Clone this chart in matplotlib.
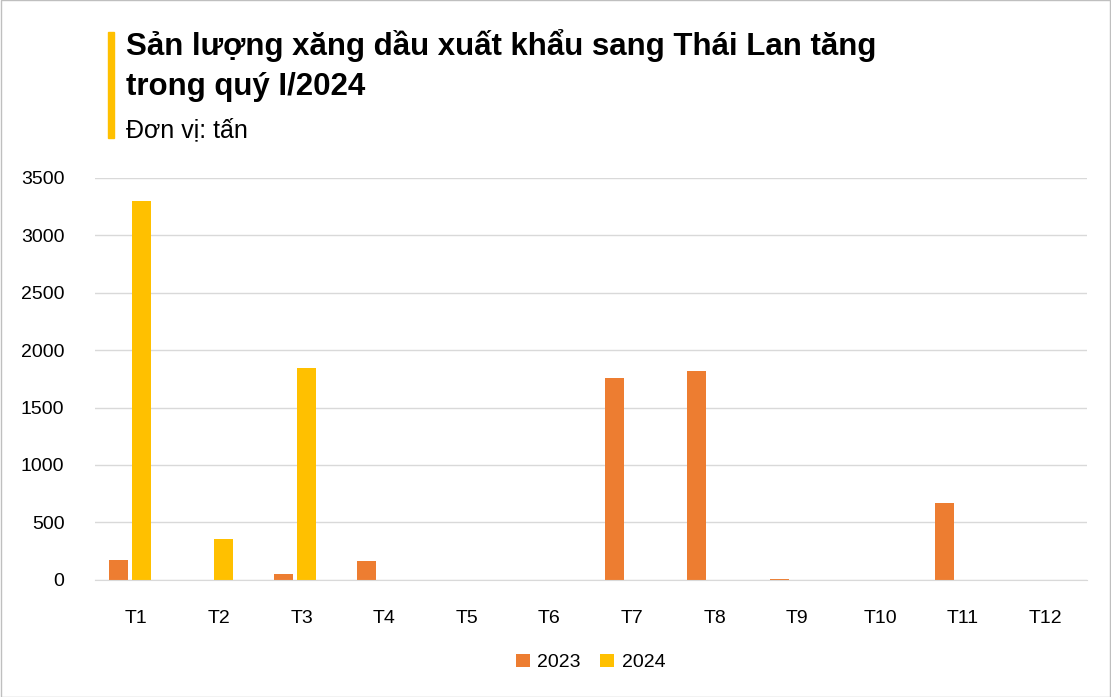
import matplotlib.pyplot as plt
import numpy as np
from matplotlib.patches import Rectangle

months = ['T1', 'T2', 'T3', 'T4', 'T5', 'T6', 'T7', 'T8', 'T9', 'T10', 'T11', 'T12']
v2023 = [170, 0, 50, 165, 0, 0, 1760, 1820, 10, 0, 670, 0]
v2024 = [3300, 355, 1840, 0, 0, 0, 0, 0, 0, 0, 0, 0]

plt.rcParams['font.family'] = ['Liberation Sans', 'DejaVu Sans']

fig = plt.figure(figsize=(11.11, 6.97), dpi=100)
ax = fig.add_axes([0.0855, 0.168, 0.8925, 0.577])

x = np.arange(len(months))
w = 0.23
ax.bar(x - 0.215, v2023, w, color='#ED7D31', label='2023')
ax.bar(x + 0.06, v2024, w, color='#FFC000', label='2024')

ax.set_xlim(-0.5, len(months) - 0.5)
ax.set_ylim(0, 3500)
ax.set_yticks(range(0, 3501, 500))
ax.set_xticks(x, months)
ax.tick_params(axis='both', length=0, labelsize=14)
ax.tick_params(axis='x', pad=22)
ax.tick_params(axis='y', pad=22)
ax.grid(axis='y', color='#d9d9d9', linewidth=1)
ax.set_axisbelow(True)
for s in ['top', 'right', 'left']:
    ax.spines[s].set_visible(False)
ax.spines['bottom'].set_color('#d9d9d9')

ax.legend(loc='upper center', bbox_to_anchor=(0.5, -0.14), ncol=2, frameon=False,
          fontsize=14, handlelength=0.7, handleheight=0.7, columnspacing=1.0, handletextpad=0.4)

fig.patches.append(Rectangle((0.097, 0.802), 0.006, 0.152, transform=fig.transFigure,
                             color='#FFC000'))
fig.text(0.113, 0.935, 'Sản lượng xăng dầu xuất khẩu sang Thái Lan tăng', fontsize=22.5,
         fontweight='bold', va='center')
fig.text(0.113, 0.875, 'trong quý I/2024', fontsize=22.5, fontweight='bold', va='center')
fig.text(0.113, 0.813, 'Đơn vị: tấn', fontsize=18, va='center')

fig.patches.append(Rectangle((0.0005, 0.0005), 0.999, 0.999, transform=fig.transFigure,
                             fill=False, edgecolor='#bfbfbf', linewidth=1))

fig.savefig('out.png', dpi=100)
